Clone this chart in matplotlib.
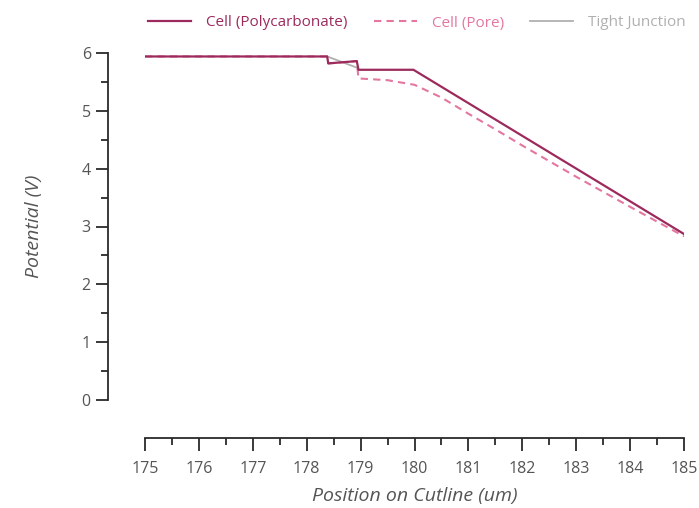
import matplotlib
matplotlib.use("Agg")
import matplotlib.pyplot as plt
from matplotlib.ticker import MultipleLocator

# Potential along the cutline (um, V)
poly_x = [175.0, 178.38, 178.40, 178.93, 178.96, 179.98, 185.0]
poly_y = [5.94, 5.94, 5.82, 5.86, 5.71, 5.71, 2.87]

pore_x = [175.0, 178.38, 178.40, 178.93, 178.96, 179.5, 180.0, 180.5, 181.0, 181.5, 182.0, 183.0, 184.0, 185.0]
pore_y = [5.94, 5.94, 5.82, 5.86, 5.56, 5.53, 5.45, 5.23, 4.95, 4.68, 4.40, 3.86, 3.34, 2.83]

tj_x = [178.38, 178.95]
tj_y = [5.94, 5.74]

x_ticks = list(range(175, 186))
y_ticks = list(range(0, 7))

c_poly = "#9c2a5c"
c_pore = "#e4769f"
c_tj = "#b0b0b0"
c_axis = "#2a2a2a"
c_text = "#555555"

plt.rcParams["font.family"] = ["Open Sans", "DejaVu Sans"]

W, H = 699, 508
fig = plt.figure(figsize=(W / 100, H / 100), dpi=100)
ax = fig.add_axes([145 / W, (H - 400) / H, (684 - 145) / W, (400 - 53) / H])

ax.plot(tj_x, tj_y, color=c_tj, lw=1.3, label="Tight Junction", zorder=2)
ax.plot(pore_x, pore_y, color=c_pore, lw=1.5, ls=(0, (3.5, 2.5)), label="Cell (Pore)", zorder=3)
ax.plot(poly_x, poly_y, color=c_poly, lw=1.6, label="Cell (Polycarbonate)", zorder=4)

ax.set_xlim(175, 185)
ax.set_ylim(0, 6)
ax.set_xticks(x_ticks)
ax.set_yticks(y_ticks)
ax.xaxis.set_minor_locator(MultipleLocator(0.5))
ax.yaxis.set_minor_locator(MultipleLocator(0.5))

for s in ("top", "right"):
    ax.spines[s].set_visible(False)
ax.spines["left"].set_position(("outward", 27))
ax.spines["bottom"].set_position(("outward", 27))
for s in ("left", "bottom"):
    ax.spines[s].set_linewidth(1.3)
    ax.spines[s].set_color(c_axis)

ax.tick_params(which="major", length=9, width=1.3, color=c_axis,
               labelsize=11.5, labelcolor=c_text)
ax.tick_params(axis="x", which="major", pad=8)
ax.tick_params(axis="y", which="major", pad=3)
ax.tick_params(which="minor", length=5, width=1.3, color=c_axis)

ax.set_xlabel("Position on Cutline (um)", fontsize=14, style="italic",
              color=c_text, labelpad=7)
ax.set_ylabel("Potential (V)", fontsize=14, style="italic",
              color=c_text, labelpad=28)

handles, labels = ax.get_legend_handles_labels()
order = [2, 1, 0]
leg = fig.legend([handles[i] for i in order], [labels[i] for i in order],
                 loc="center", bbox_to_anchor=(417 / W, 1 - 23 / H), ncol=3,
                 frameon=False, fontsize=11, handlelength=2.8,
                 columnspacing=1.7, handletextpad=1.0)
for txt, col in zip(leg.get_texts(), [c_poly, c_pore, c_tj]):
    txt.set_color(col)

fig.savefig("out.png", dpi=100)
